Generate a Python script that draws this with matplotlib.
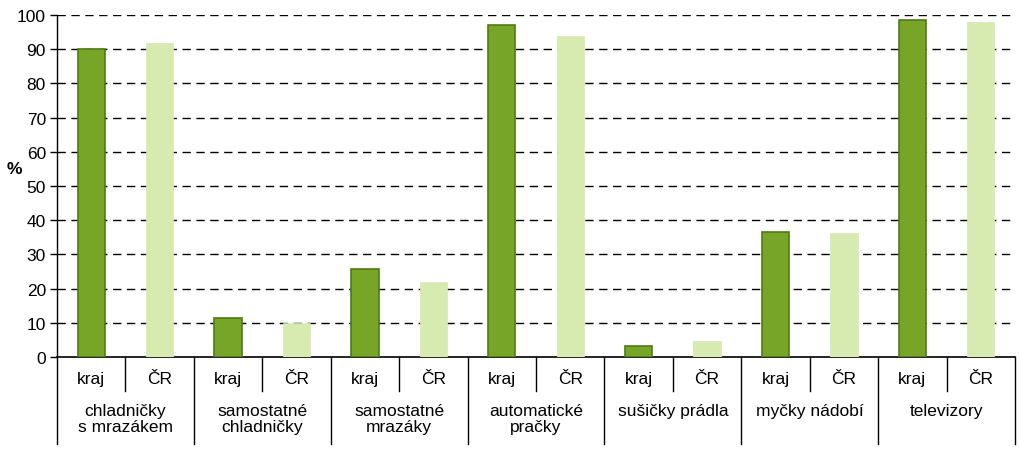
import matplotlib.pyplot as plt
import numpy as np

plt.rcParams['font.family'] = ['Liberation Sans', 'DejaVu Sans']

groups = ['chladničky\ns mrazákem', 'samostatné\nchladničky', 'samostatné\nmrazáky',
          'automatické\npračky', 'sušičky prádla', 'myčky nádobí', 'televizory']
sub_labels = ['kraj', 'ČR']
kraj = [90.0, 11.4, 25.7, 97.0, 3.2, 36.6, 98.6]
cr = [91.8, 10.0, 22.0, 94.0, 4.7, 36.2, 97.9]

dark = '#77a528'
dark_edge = '#4f7a14'
light = '#d7eab0'
fs = 12.5

fig = plt.figure(figsize=(10.19, 4.52), dpi=100)
ax = fig.add_axes([57/1019, 1-358/452, (1015-57)/1019, (358-16)/452])

n = len(groups)
x_kraj = np.arange(n) * 2 + 0.5
x_cr = np.arange(n) * 2 + 1.5
ax.bar(x_kraj, kraj, width=0.4, color=dark, edgecolor=dark_edge, linewidth=1.2, zorder=3)
ax.bar(x_cr, cr, width=0.4, color=light, edgecolor=light, linewidth=0.5, zorder=3)

ax.set_xlim(0, 2 * n)
ax.set_ylim(0, 100)
ax.set_yticks(np.arange(0, 101, 10))
ax.tick_params(axis='y', length=5, width=1, labelsize=fs, pad=3)
ax.set_xticks([])
for y in range(10, 101, 10):
    ax.axhline(y, color='black', lw=1, linestyle=(0, (6, 4)), zorder=1)

for s in ['top', 'right']:
    ax.spines[s].set_visible(False)
ax.spines['left'].set_linewidth(1)
ax.spines['bottom'].set_linewidth(1.2)

tr = ax.get_xaxis_transform()
short = -34 / 342
long = -87 / 342
for i in range(n + 1):
    ax.plot([2 * i, 2 * i], [0, long], transform=tr, color='black', lw=1, clip_on=False)
for i in range(n):
    ax.plot([2 * i + 1, 2 * i + 1], [0, short], transform=tr, color='black', lw=1, clip_on=False)
    ax.text(x_kraj[i], -22 / 342, sub_labels[0], transform=tr, ha='center', va='center', fontsize=fs)
    ax.text(x_cr[i], -22 / 342, sub_labels[1], transform=tr, ha='center', va='center', fontsize=fs)
    ax.text(2 * i + 1, -46 / 342, groups[i], transform=tr, ha='center', va='top', fontsize=fs,
            linespacing=1.05)

fig.text(14/1019, 1-170/452, '%', ha='center', va='center', fontsize=fs, fontweight='bold')

fig.savefig('out.png', dpi=100)
